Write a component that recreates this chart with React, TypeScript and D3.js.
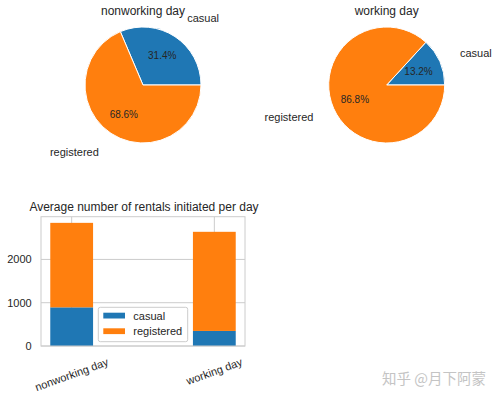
import React, { useEffect, useRef } from 'react';
import * as d3 from 'd3';

const categories = ['nonworking day', 'working day'];
const seriesNames = ['casual', 'registered'];
const casual = [893, 348];
const registered = [1952, 2290];
const yTicks = [0, 1000, 2000];

const colors = ['#1f77b4', '#ff7f0e'];
const textColor = '#262626';
const gridColor = '#cccccc';
const font = '"Liberation Sans", Arial, sans-serif';

const App: React.FC = () => {
  const ref = useRef<SVGSVGElement>(null);

  useEffect(() => {
    if (!ref.current) return;
    const svg = d3.select(ref.current);
    svg.selectAll('*').remove();

    // pies
    const r = 58;
    const pieCenters = [[143, 85], [386.7, 85]];
    const pie = d3.pie<number>().sort(null).startAngle(Math.PI / 2).endAngle(Math.PI / 2 - 2 * Math.PI);
    const arc = d3.arc<d3.PieArcDatum<number>>().innerRadius(0).outerRadius(r);
    const pctArc = d3.arc<d3.PieArcDatum<number>>().innerRadius(r * 0.6).outerRadius(r * 0.6);
    const lblArc = d3.arc<d3.PieArcDatum<number>>().innerRadius(r * 1.38).outerRadius(r * 1.38);

    categories.forEach((cat, i) => {
      const [cx, cy] = pieCenters[i];
      const g = svg.append('g').attr('transform', `translate(${cx},${cy})`);
      const vals = [casual[i], registered[i]];
      const total = d3.sum(vals);
      const arcs = pie(vals);

      g.selectAll('path.w').data(arcs).enter().append('path')
        .attr('d', arc)
        .attr('fill', (_, j) => colors[j])
        .attr('stroke', '#ffffff')
        .attr('stroke-width', 1);

      arcs.forEach((a, j) => {
        const [px, py] = pctArc.centroid(a);
        g.append('text')
          .attr('x', px).attr('y', py)
          .attr('text-anchor', 'middle')
          .attr('dominant-baseline', 'central')
          .attr('fill', textColor)
          .style('font-size', '10px')
          .text(`${((vals[j] / total) * 100).toFixed(1)}%`);
        const [lx, ly] = lblArc.centroid(a);
        g.append('text')
          .attr('x', lx).attr('y', ly)
          .attr('text-anchor', lx > 0 ? 'start' : 'end')
          .attr('dominant-baseline', 'central')
          .attr('fill', textColor)
          .style('font-size', '11px')
          .text(seriesNames[j]);
      });

      svg.append('text')
        .attr('x', cx).attr('y', 15)
        .attr('text-anchor', 'middle')
        .attr('fill', textColor)
        .style('font-size', '12px')
        .text(cat);
    });

    // stacked bars
    const totals = categories.map((_, i) => casual[i] + registered[i]);
    const yMax = d3.max(totals)! * 1.05;
    const x = d3.scaleLinear().domain([-0.215, 1.215]).range([41, 245]);
    const y = d3.scaleLinear().domain([0, yMax]).range([346, 216.7]);
    const bw = 0.3;

    const b = svg.append('g');
    yTicks.forEach(t => {
      b.append('line')
        .attr('x1', x.range()[0]).attr('x2', x.range()[1])
        .attr('y1', y(t)).attr('y2', y(t))
        .attr('stroke', gridColor).attr('stroke-width', 1);
      b.append('text')
        .attr('x', 31.7).attr('y', y(t))
        .attr('text-anchor', 'end')
        .attr('dominant-baseline', 'central')
        .attr('fill', textColor)
        .style('font-size', '11px')
        .text(t);
    });
    categories.forEach((_, i) => {
      b.append('line')
        .attr('x1', x(i)).attr('x2', x(i))
        .attr('y1', y.range()[0]).attr('y2', y.range()[1])
        .attr('stroke', gridColor).attr('stroke-width', 1);
    });

    const stack = d3.stack<number>().keys(['0', '1']).value((i, k) => (k === '0' ? casual[i] : registered[i]));
    const layers = stack(categories.map((_, i) => i));
    layers.forEach((layer, k) => {
      b.selectAll(`rect.s${k}`).data(layer).enter().append('rect')
        .attr('x', (_, i) => x(i - bw / 2))
        .attr('width', x(bw) - x(0))
        .attr('y', d => y(d[1]))
        .attr('height', d => y(d[0]) - y(d[1]))
        .attr('fill', colors[k]);
    });

    b.append('rect')
      .attr('x', x.range()[0]).attr('y', y.range()[1])
      .attr('width', x.range()[1] - x.range()[0])
      .attr('height', y.range()[0] - y.range()[1])
      .attr('fill', 'none').attr('stroke', gridColor).attr('stroke-width', 1);

    categories.forEach((cat, i) => {
      const t = b.append('text')
        .attr('text-anchor', 'middle')
        .attr('dominant-baseline', 'central')
        .attr('fill', textColor)
        .style('font-size', '11px')
        .text(cat);
      const len = (t.node() as SVGTextElement).getComputedTextLength();
      const ang = (20 * Math.PI) / 180;
      const half = (len * Math.sin(ang) + 11 * Math.cos(ang)) / 2;
      const cx = x(i);
      const cy = 356 + half;
      t.attr('transform', `translate(${cx},${cy}) rotate(-20)`);
    });

    svg.append('text')
      .attr('x', 144).attr('y', 210.5)
      .attr('text-anchor', 'middle')
      .attr('fill', textColor)
      .style('font-size', '12px')
      .text('Average number of rentals initiated per day');

    // legend
    const lg = svg.append('g').attr('transform', 'translate(98.3,307.3)');
    lg.append('rect')
      .attr('width', 89.4).attr('height', 34.4).attr('rx', 2)
      .attr('fill', '#ffffff').attr('fill-opacity', 0.8)
      .attr('stroke', gridColor).attr('stroke-width', 1);
    seriesNames.forEach((s, k) => {
      lg.append('rect')
        .attr('x', 5).attr('y', 5.4 + k * 15.6)
        .attr('width', 21.7).attr('height', 5.8)
        .attr('fill', colors[k]);
      lg.append('text')
        .attr('x', 35).attr('y', 8.3 + k * 15.6)
        .attr('dominant-baseline', 'central')
        .attr('fill', textColor)
        .style('font-size', '11px')
        .text(s);
    });

    svg.append('text')
      .attr('x', 382).attr('y', 384)
      .attr('fill', '#c4c4c4')
      .style('font-family', '"Noto Sans CJK SC", sans-serif')
      .style('font-size', '14.5px')
      .text('知乎 @月下阿蒙');
  }, []);

  return (
    <svg
      ref={ref}
      width={500}
      height={399}
      style={{ position: 'absolute', left: 0, top: 0, background: '#ffffff', fontFamily: font }}
    />
  );
};

export default App;
